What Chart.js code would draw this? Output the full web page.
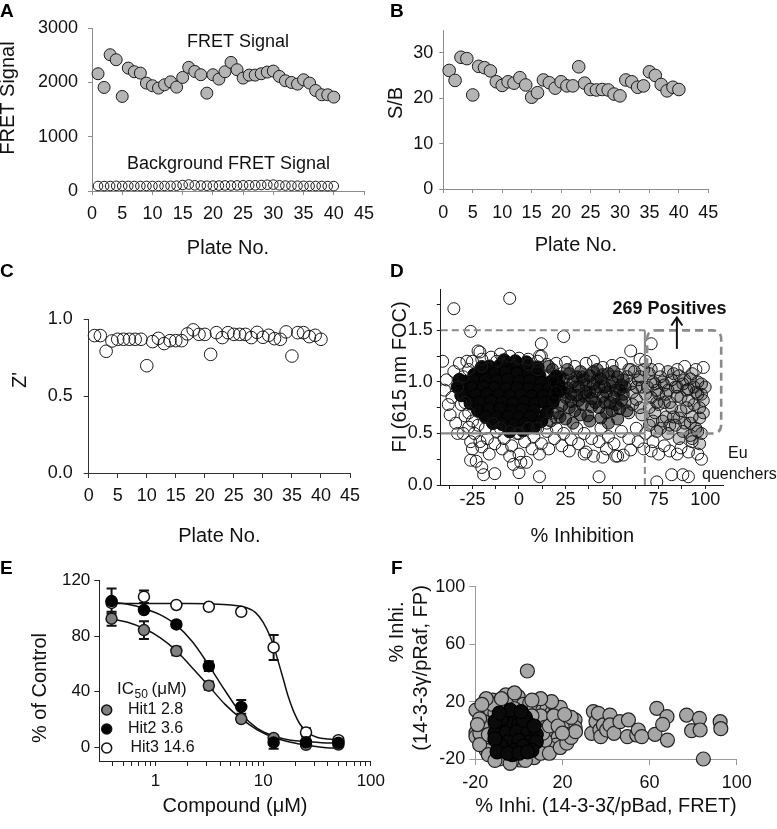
<!DOCTYPE html>
<html>
<head>
<meta charset="utf-8">
<title>HTS figure</title>
<script src="https://cdn.jsdelivr.net/npm/chart.js@4/dist/chart.umd.min.js"></script>
<style>
  html, body { margin:0; padding:0; background:#fff; }
  body { width:777px; height:829px; position:relative; overflow:hidden; font-family:"Liberation Sans", Arial, sans-serif; }
  canvas { position:absolute; }
  .plab { position:absolute; z-index:5; font-weight:bold; font-size:19px; line-height:19px; color:#000; }
</style>
</head>
<body>
<div class="plab" style="left:0px;top:1px">A</div>
<div class="plab" style="left:390px;top:1px">B</div>
<div class="plab" style="left:0px;top:261px">C</div>
<div class="plab" style="left:390px;top:261px">D</div>
<div class="plab" style="left:0px;top:558px">E</div>
<div class="plab" style="left:391px;top:558px">F</div>
<script>
// ---------------- DATA ----------------
const plates = [1,2,3,4,5,6,7,8,9,10,11,12,13,14,15,16,17,18,19,20,21,22,23,24,25,26,27,28,29,30,31,32,33,34,35,36,37,38,39,40];
const plateTicks = [0,5,10,15,20,25,30,35,40,45];
const plateTickLabels = ['0','5','10','15','20','25','30','35','40','45'];

// Panel A
const aFret = [2158,1906,2508,2416,1740,2262,2195,2170,1986,1937,1894,1955,2010,1912,2090,2275,2200,2140,1801,2140,2060,2195,2367,2232,2078,2133,2133,2158,2189,2207,2109,2029,1998,1967,2047,1986,1850,1771,1771,1728];
const aBackground = [92,90,92,95,92,93,92,92,93,92,92,93,95,97,110,120,105,100,97,98,100,102,100,103,105,106,105,110,115,118,105,100,98,97,95,93,92,92,90,90];
const aYTicks = [0,1000,2000,3000];
const aYTickLabels = ['0','1000','2000','3000'];

// Panel B
const bSB = [26.1,23.9,29.0,28.7,20.7,27.0,26.7,26.0,23.6,22.8,23.6,23.3,24.5,22.9,20.2,21.2,24.0,23.4,22.2,23.6,22.7,22.7,26.9,23.3,21.9,21.8,21.9,21.8,20.9,20.5,24.0,23.6,22.4,22.7,25.8,25.0,23.0,21.6,22.4,21.9];
const bYTicks = [0,10,20,30];
const bYTickLabels = ['0','10','20','30'];

// Panel C
const cZ = [0.894,0.894,0.792,0.859,0.870,0.870,0.870,0.870,0.870,0.698,0.855,0.876,0.842,0.861,0.861,0.861,0.905,0.931,0.902,0.902,0.772,0.913,0.881,0.913,0.902,0.902,0.902,0.881,0.915,0.883,0.896,0.874,0.870,0.918,0.761,0.913,0.913,0.887,0.896,0.870];
const cYTicks = [0,0.5,1];
const cYTickLabels = ['0.0','0.5','1.0'];

// Panel D (% inhibition vs FI)
const dCoreX = [-16,-10,-4,2,7, -24,-19,-13,-7,-1,5,11, -29,-24,-18,-12,-6,0,6,12,17, -30,-25,-19,-13,-7,-1,5,11,16, -28,-23,-17,-11,-5,1,7,13, -26,-21,-15,-9,-3,3,9,14, -22,-16,-10,-4,2,8, -18,-12,-6,0,6, -9,-3,3,
  -8,-2,4,-20,-5,2,8,20,21,19,18,22,-33,-32,-31,12,15,-14,10];
const dCoreY = [1.15,1.16,1.15,1.14,1.13, 1.07,1.09,1.08,1.09,1.08,1.07,1.06, 1.0,1.01,1.02,1.01,1.02,1.0,1.01,0.99,1.0, 0.93,0.94,0.95,0.94,0.93,0.94,0.93,0.92,0.93, 0.86,0.87,0.88,0.87,0.86,0.87,0.86,0.86, 0.79,0.8,0.81,0.8,0.79,0.8,0.79,0.8, 0.72,0.73,0.74,0.72,0.73,0.72, 0.66,0.65,0.66,0.65,0.66, 0.59,0.58,0.59,
  1.21,1.2,1.19,1.14,0.52,0.53,0.56,1.05,0.97,0.88,0.8,0.92,0.95,1.02,0.87,0.62,0.7,0.6,1.14];
const dDarkX = [18,22,20,24,19,23,27,29,26,31,28,33,35,32,36,34,21,30,25,17, 38,40,42,41,44,46,39,45,48,50,52,49,53,55,43,47,51,54,37,56,
  16,19,23,26,28,30,32,34,36,38,40,41,43,45,47,49,51,52,54,56,57,25,27,22,29,33,38,44,48,53,20,24,31,35,39,42,46,50,55,58];
const dDarkY = [1.12,1.05,0.98,0.9,0.84,0.77,1.08,1.0,0.94,0.87,0.81,1.1,1.02,0.95,0.9,0.78,0.7,0.72,0.64,0.62, 1.06,0.98,1.12,0.91,1.03,0.95,0.84,0.86,1.08,1.0,0.92,0.8,1.05,0.97,0.75,0.7,0.85,0.74,0.67,0.88,
  1.15,1.0,0.95,1.12,0.88,0.95,0.82,1.05,0.97,0.9,1.1,0.8,0.95,1.07,0.9,0.96,1.1,0.78,0.92,1.02,0.95,0.85,0.75,0.66,0.6,0.68,0.62,0.65,0.6,0.64,0.9,1.03,1.05,0.86,0.76,1.02,0.8,0.72,0.82,0.72];
const dLightX = [58,60,62,57,61,64,66,63,67,59,65,68, 70,72,74,71,76,78,75,73,80,82,79,84,81,77,86,88,85,90,87,92,94,91,96,93,98,97,89,83,95,99,70,74,80,86,92,97,
  59,61,63,65,66,69,71,73,75,77,78,80,82,83,85,87,89,90,91,93,94,95,96,97,98,99,72,76,79,84,88,92,96,100,70,74,81,86,93,98];
const dLightY = [1.05,0.98,1.1,0.8,0.9,1.02,0.95,0.83,1.12,0.7,0.75,0.88, 1.08,1.0,0.92,0.85,1.05,0.97,0.78,0.7,1.1,1.02,0.88,0.95,0.8,0.62,1.06,0.98,0.86,0.92,0.72,1.03,0.95,0.82,0.88,0.66,0.98,0.75,0.6,0.66,0.55,0.82,0.58,0.52,0.5,0.45,0.48,0.4,
  1.12,0.78,0.95,1.05,0.68,0.95,1.12,0.98,0.88,1.0,0.8,0.92,0.75,1.08,0.95,0.85,1.02,0.75,0.93,1.08,0.78,0.9,1.0,0.65,0.88,0.7,0.62,0.55,0.66,0.58,0.52,0.6,0.52,0.95,0.75,0.8,0.58,0.65,0.45,0.5];
const dOpenX = [-41,-40,-39,-37,-36,-35,-33,-34,-32,-31,-30,-29,-28,-27,-26,-25,-33,-38,
  -25,-20,-21,-15,-10,-5,0,5,10,12,15,20,25,30,36,40,45,50,55,60,65,68,75,85,89,95,99,
  -24,-21,-20,-17,-16,-13,-12,-9,-8,-5,-4,-1,0,3,4,7,8,11,12,15,16,19,20,23,24,27,28,31,32,35,36,39,40,43,44,47,48,51,52,55,56,59,60,63,64,67,68,71,72,75,78,81,85,87,91,93,96,98,
  -30,-29,-27,-25,-22,-18,-14,-10,-5,0,5,10,15,18,20,-20,-27,5,-12,10,
  -26,-23,-20,-19,-13,0,11,43,74,82,88,91,-3,1,35,45,53,
  -35,-5,-26,12,24,11,60,71,-22];
const dOpenY = [1.2,0.92,1.02,0.68,0.85,1.1,0.95,0.6,1.18,0.78,0.5,0.67,1.2,0.56,0.42,0.35,0.5,0.78,
  1.2,1.22,1.29,1.24,1.27,1.25,1.23,1.22,1.2,1.25,1.17,1.18,1.19,1.15,1.18,1.2,1.14,1.16,1.18,1.12,1.22,1.2,1.12,1.12,1.15,1.12,1.14,
  0.5,0.42,0.37,0.45,0.3,0.4,0.52,0.35,0.45,0.28,0.38,0.5,0.3,0.42,0.22,0.35,0.47,0.3,0.4,0.52,0.35,0.45,0.55,0.38,0.5,0.33,0.44,0.55,0.4,0.5,0.32,0.45,0.28,0.42,0.55,0.35,0.47,0.4,0.28,0.52,0.29,0.45,0.34,0.55,0.42,0.35,0.5,0.33,0.42,0.3,0.38,0.33,0.3,0.36,0.32,0.42,0.3,0.25,
  1.05,0.8,0.7,0.62,0.58,0.55,0.6,0.55,0.52,0.5,0.55,0.55,0.6,0.7,0.65,1.15,1.12,1.17,1.2,1.12,
  0.24,0.23,0.17,0.1,0.11,0.12,0.08,0.08,0.03,0.1,0.1,0.08,0.2,0.22,0.3,0.27,0.28,
  1.71,1.81,1.49,1.37,1.44,1.25,1.3,1.37,1.3];
const dXTicks = [-37.5,-25,-12.5,0,12.5,25,37.5,50,62.5,75,87.5,100];
const dXTickLabels = ['','-25','','0','','25','','50','','75','','100'];
const dYTicks = [0,0.25,0.5,0.75,1,1.25,1.5,1.75];
const dYTickLabels = ['0.0','','0.5','','1.0','','1.5',''];
const dCutoffInhibition = 67.6;   // vertical cut-off
const dFILow = 0.5, dFIHigh = 1.5;
const dPositives = '269 Positives';

// Panel E (dose response)
const eConc = [0.39,0.78,1.56,3.125,6.25,12.5,25,50];
const eHit1 = [92.6,84.4,69.3,44.3,20.2,6.5,1.7,1.9];
const eErr1 = [5,6.4,3,3,2,2,1.5,1.5];
const eHit2 = [105.3,98.8,88.5,58.4,29,3.4,3.5,3.1];
const eErr2 = [9,2,2,3.5,5,4.5,2,2];
const eHit3 = [104,108.5,102.5,101.2,97.6,71.9,10.6,5];
const eErr3 = [2,4.5,1.5,1.5,1.5,9,3,2];
const eFitX = [0.39,0.55,0.78,1.1,1.56,2.2,3.125,4.4,6.25,8.8,12.5,18,25,35,50];
const eFit1 = [92.5,90,85.5,79,69.5,57,44,31,20.5,12.5,7,3.5,1.5,0,-1];
const eFit2 = [104.5,103,100,95.5,88,76,59,41,24,13.5,8,5,4,3.2,3];
const eFit3X = [0.39,1,2,3.125,5,7,8.5,10,11.5,12.5,14,15.5,17,19,22,26,32,40,50];
const eFit3 = [103.5,103.5,103.5,103.3,102.5,100.5,97,90,80.5,73,60,48,37,26.5,16.5,10.5,7,5.8,5.2];
const eIC50 = ['2.8','3.6','14.6'];
const eHitNames = ['Hit1','Hit2','Hit3'];
const eXTicks = [0.4,0.5,0.6,0.7,0.8,0.9,1,2,3,4,5,6,7,8,9,10,20,30,40,50,60,70,80,90,100];
const eXTickLabels = ['','','','','','','1','','','','','','','','','10','','','','','','','','','100'];
const eYTicks = [0,40,80,120];
const eYTickLabels = ['0','40','80','120'];

// Panel F
const fCoreX = [-6,-1,3,-10,-5,0,5,-11,-6,-1,4,8,-10,-5,0,5,-7,-2,3,-8,2,-8,2,-3,
  -11,-11,7,8,6,-4,1,-10,-5,0,4,-9];
const fCoreY = [10,11,9,4,5,4,4,-2,-2,-1,-2,-3,-8,-8,-7,-8,-14,-14,-13,8,7,-11,-11,-17,
  -6,6,3,-8,-14,14,13,-15,-16,-16,-15,12];
const fGrayX = [-19.7,-19.7,-19.7,-16,-17,-15,-14,-13,-12,-9,-6,-4,-0.3,2,5,7,9,11,13,15,17,19,21,23,25.8,25.8,20,16,13,10,12,15,18,20,17,14,11,8.2,6,3,1,0.5,-3,-6.4,-9,-10.2,-13.3,-16.3,-17.9,-16,-11,3.9,8.2,-15,-12,6,9,12,22,-2,7,
  -18,-18,-14,-11,-4,3,10,14,19,22,24,26,24,19,15,10,6,-2,-8,-15,-17,-19,11,14,16,18,21,20,-14,
  33.4,34.2,35.4,36.5,37.2,37.6,38.8,40.3,41.8,41.8,43.7,46.4,50.3,49.8,54.1,54.8,56.4,62.5,63.3,68,66,68.2,77,79.3,82.9,83.2,84.7,92.4,92.7];
const fGrayY = [14.1,-1.7,-4.4,2,-6,-9,9,14,21,17,24.6,20,23.4,18,19,16,18,14,15.5,12,13,9,7,5,7.2,2.1,2,5,8,10,2,-2,-5,-8,-10.3,-12,-12,-11.4,-15,-16,-19,-20.7,-21,-18.4,-20,-16,-11.4,-6.8,-2.1,6,12,41.3,0.9,-14,18,10,-6,-7,-3,15,-19,
  8,-10,-17,-21,-23,-21,-16,-16,-12,-9,-5,-1,9,16,20,22,21,26,22,22,18,4,-2,3,10,3,11,-2,-3,
  -2.1,13,6,11.8,0.2,-4.4,3.7,0.2,10.6,3.7,-2.1,6,7.2,-4.4,-3.3,0.2,-4.4,-2.8,15.3,9.5,4.1,-6.8,10.6,-0.3,8.3,0.2,-20,6,1.1];
const fTicks = [-20,20,60,100];
const fTickLabels = ['-20','20','60','100'];

// ---------------- RENDERING ----------------
const FONT = '"Liberation Sans", Arial, Helvetica, sans-serif';
const pts = (xs, ys) => xs.map((x, i) => ({x: x, y: ys[i]}));

function pageText(ch, p, s, x, y, o) {
  o = o || {};
  const ctx = ch.ctx; ctx.save();
  ctx.font = (o.bold ? 'bold ' : '') + (o.size || 18) + 'px ' + FONT;
  ctx.fillStyle = o.color || '#111';
  ctx.textAlign = o.align || 'center';
  ctx.textBaseline = o.base || 'middle';
  ctx.fillText(s, x - p.box.x, y - p.box.y);
  ctx.restore();
}

function build(p) {
  const cv = document.createElement('canvas');
  cv.width = p.box.w; cv.height = p.box.h;
  cv.style.left = p.box.x + 'px'; cv.style.top = p.box.y + 'px';
  cv.style.width = p.box.w + 'px'; cv.style.height = p.box.h + 'px';
  document.body.appendChild(cv);
  const yW = p.plot.L - p.box.x;
  const xH = p.box.y + p.box.h - p.plot.B;
  const xTitlePad = p.box.y + p.box.h - p.xTitle.y - 12;
  function scale(o, horiz) {
    return {
      type: o.type || 'linear', min: o.min, max: o.max, position: horiz ? 'bottom' : 'left',
      afterBuildTicks: s => { s.ticks = o.ticks.map(v => ({value: v})); },
      afterFit: s => { if (horiz) s.height = xH; else s.width = yW; },
      grid: {display: true, drawOnChartArea: false, drawTicks: true, tickLength: o.tl, color: p.axisColor, tickColor: p.axisColor, lineWidth: p.axisWidth || 1},
      border: {display: true, color: p.axisColor, width: p.axisWidth || 1},
      ticks: {autoSkip: false, maxRotation: 0, minRotation: 0, padding: o.pad, color: '#111',
              font: {family: FONT, size: o.size || 18}, callback: (v, i) => o.labels[i]},
      title: horiz ? {display: true, text: p.xTitle.text, color: '#111', font: {family: FONT, size: 20, lineHeight: 1.2},
                      padding: {top: 0, bottom: xTitlePad}} : {display: false}
    };
  }
  return new Chart(cv, {
    type: 'scatter',
    data: {datasets: p.datasets},
    options: {
      responsive: false, animation: false, devicePixelRatio: 1, events: [],
      layout: {padding: {left: 0, top: p.plot.T - p.box.y, right: p.box.x + p.box.w - p.plot.R, bottom: 0}},
      plugins: {legend: {display: false}, tooltip: {enabled: false}},
      scales: {x: scale(p.x, true), y: scale(p.y, false)}
    },
    plugins: [{
      id: 'extras',
      beforeDatasetsDraw: ch => { if (p.before) p.before(ch, p); },
      afterDatasetsDraw: ch => { if (p.after) p.after(ch, p); },
      afterDraw: ch => {
        const ctx = ch.ctx;
        p.yTitle.forEach(t => {
          ctx.save();
          ctx.fillStyle = '#111'; ctx.font = '20px ' + FONT;
          ctx.textAlign = 'center'; ctx.textBaseline = 'middle';
          ctx.translate(t.x - p.box.x, t.y - p.box.y); ctx.rotate(-Math.PI / 2);
          ctx.fillText(t.text, 0, 0);
          ctx.restore();
        });
      }
    }]
  });
}

const openStyle = (r) => ({pointRadius: r, pointBackgroundColor: 'rgba(0,0,0,0)', pointBorderColor: '#1a1a1a', pointBorderWidth: 1});

// ---- A ----
build({
  box: {x: -10, y: 0, w: 395, h: 262}, plot: {L: 92, T: 28, R: 364, B: 191},
  axisColor: '#8c8c8c',
  x: {min: 0, max: 45, ticks: plateTicks, labels: plateTickLabels, tl: 4, pad: 8},
  y: {min: 0, max: 3000, ticks: aYTicks, labels: aYTickLabels, tl: 4, pad: 10},
  xTitle: {text: 'Plate No.', y: 248},
  yTitle: [{text: 'FRET Signal', x: 8, y: 98}],
  datasets: [
    Object.assign({data: pts(plates, aFret), clip: false}, {pointRadius: 6, pointBackgroundColor: '#b4b4b4', pointBorderColor: '#1a1a1a', pointBorderWidth: 1}),
    Object.assign({data: pts(plates, aBackground), clip: false}, openStyle(4.8))
  ],
  after: (ch, p) => {
    pageText(ch, p, 'FRET Signal', 238, 42, {size: 18});
    pageText(ch, p, 'Background FRET Signal', 228.5, 164, {size: 18});
  }
});

// ---- B ----
build({
  box: {x: 385, y: 0, w: 392, h: 262}, plot: {L: 443.3, T: 30, R: 708.3, B: 189},
  axisColor: '#8c8c8c',
  x: {min: 0, max: 45, ticks: plateTicks, labels: plateTickLabels, tl: 4, pad: 9},
  y: {min: 0, max: 35, ticks: bYTicks, labels: bYTickLabels, tl: 4, pad: 6},
  xTitle: {text: 'Plate No.', y: 245.7},
  yTitle: [{text: 'S/B', x: 396, y: 103}],
  datasets: [
    Object.assign({data: pts(plates, bSB), clip: false}, {pointRadius: 6.3, pointBackgroundColor: '#b4b4b4', pointBorderColor: '#1a1a1a', pointBorderWidth: 1})
  ]
});

// ---- C ----
build({
  box: {x: -10, y: 265, w: 395, h: 285}, plot: {L: 88.7, T: 319.3, R: 350, B: 473},
  axisColor: '#333333',
  x: {min: 0, max: 45, ticks: plateTicks, labels: plateTickLabels, tl: 5, pad: 7},
  y: {min: 0, max: 1, ticks: cYTicks, labels: cYTickLabels, tl: 5, pad: 11},
  xTitle: {text: 'Plate No.', y: 536.7},
  yTitle: [{text: "Z'", x: 20, y: 380}],
  datasets: [
    Object.assign({data: pts(plates, cZ), clip: false}, openStyle(6.3))
  ]
});

// ---- D ----
build({
  box: {x: 385, y: 265, w: 392, h: 285}, plot: {L: 440.8, T: 289.1, R: 723.8, B: 485},
  axisColor: '#1a1a1a',
  x: {min: -42, max: 110, ticks: dXTicks, labels: dXTickLabels, tl: 4, pad: 0},
  y: {min: 0, max: 1.9, ticks: dYTicks, labels: dYTickLabels, tl: 4, pad: 4},
  xTitle: {text: '% Inhibition', y: 536.7},
  yTitle: [{text: 'FI (615 nm FOC)', x: 400, y: 377}],
  datasets: [
    Object.assign({data: pts(dOpenX, dOpenY), clip: 0}, openStyle(6)),
    Object.assign({data: pts(dLightX, dLightY), clip: 0}, {pointRadius: 6, pointBackgroundColor: 'rgba(0,0,0,0.2)', pointBorderColor: '#1a1a1a', pointBorderWidth: 1}),
    Object.assign({data: pts(dDarkX, dDarkY), clip: 0}, {pointRadius: 6, pointBackgroundColor: 'rgba(0,0,0,0.5)', pointBorderColor: '#111', pointBorderWidth: 1}),
    Object.assign({data: pts(dCoreX, dCoreY), clip: 0}, {pointRadius: 6.5, pointBackgroundColor: '#080808', pointBorderColor: '#000', pointBorderWidth: 1})
  ],
  after: (ch, p) => {
    const X = v => ch.scales.x.getPixelForValue(v), Y = v => ch.scales.y.getPixelForValue(v);
    const ctx = ch.ctx;
    const seg = (x1, y1, x2, y2) => { ctx.beginPath(); ctx.moveTo(x1, y1); ctx.lineTo(x2, y2); ctx.stroke(); };
    ctx.save();
    ctx.strokeStyle = '#8a8a8a';
    ctx.lineWidth = 2; ctx.setLineDash([7, 4]);
    seg(X(-42), Y(dFIHigh), X(dCutoffInhibition), Y(dFIHigh));
    seg(X(dCutoffInhibition), Y(0), X(dCutoffInhibition), Y(dFILow));
    ctx.setLineDash([]); ctx.lineWidth = 2.2;
    seg(X(-42), Y(dFILow), X(dCutoffInhibition), Y(dFILow));
    ctx.lineWidth = 2;
    seg(X(dCutoffInhibition), Y(dFILow), X(dCutoffInhibition), Y(dFIHigh));
    // rounded dashed box around positives
    ctx.lineWidth = 2.6; ctx.setLineDash([8, 5]);
    const bx1 = X(68.8), bx2 = X(108.6), by1 = Y(dFIHigh), by2 = Y(dFILow), r = 9;
    ctx.beginPath();
    ctx.moveTo(bx1 + r, by1); ctx.lineTo(bx2 - r, by1); ctx.quadraticCurveTo(bx2, by1, bx2, by1 + r);
    ctx.lineTo(bx2, by2 - r); ctx.quadraticCurveTo(bx2, by2, bx2 - r, by2);
    ctx.lineTo(bx1 + r, by2); ctx.quadraticCurveTo(bx1, by2, bx1, by2 - r);
    ctx.lineTo(bx1, by1 + r); ctx.quadraticCurveTo(bx1, by1, bx1 + r, by1);
    ctx.stroke();
    // arrow
    ctx.setLineDash([]); ctx.strokeStyle = '#111'; ctx.lineWidth = 2;
    const axp = X(84.8), ay1 = Y(1.32), ay2 = Y(1.625);
    seg(axp, ay1, axp, ay2);
    ctx.beginPath(); ctx.moveTo(axp - 5.5, ay2 + 8); ctx.lineTo(axp, ay2); ctx.lineTo(axp + 5.5, ay2 + 8); ctx.stroke();
    ctx.restore();
    pageText(ch, p, dPositives, 669.5, 309, {size: 18, bold: true});
    pageText(ch, p, 'Eu', 728, 454, {size: 16, align: 'left'});
    pageText(ch, p, 'quenchers', 702, 475, {size: 16, align: 'left'});
  }
});

// ---- E ----
build({
  box: {x: -10, y: 550, w: 400, h: 279}, plot: {L: 99.3, T: 580.7, R: 371.5, B: 761},
  axisColor: '#222222',
  x: {type: 'logarithmic', min: 0.32, max: 100, ticks: eXTicks, labels: eXTickLabels, tl: 5, pad: 5, size: 17},
  y: {min: -10, max: 120, ticks: eYTicks, labels: eYTickLabels, tl: 5, pad: 4, size: 17},
  xTitle: {text: 'Compound (\u03bcM)', y: 806.7},
  yTitle: [{text: '% of Control', x: 40, y: 688}],
  datasets: [
    {data: pts(eConc, eHit2), pointRadius: 5.5, pointBackgroundColor: '#000', pointBorderColor: '#000', pointBorderWidth: 1.5, clip: false},
    {data: pts(eConc, eHit1), pointRadius: 5.5, pointBackgroundColor: '#808080', pointBorderColor: '#1a1a1a', pointBorderWidth: 1.5, clip: false},
    {data: pts(eConc, eHit3), pointRadius: 5.5, pointBackgroundColor: '#ffffff', pointBorderColor: '#111', pointBorderWidth: 1.5, clip: false},
    {data: pts(eFitX, eFit1), showLine: true, pointRadius: 0, borderColor: '#111', borderWidth: 1.5, cubicInterpolationMode: 'monotone', clip: false},
    {data: pts(eFitX, eFit2), showLine: true, pointRadius: 0, borderColor: '#111', borderWidth: 1.5, cubicInterpolationMode: 'monotone', clip: false},
    {data: pts(eFit3X, eFit3), showLine: true, pointRadius: 0, borderColor: '#111', borderWidth: 1.5, cubicInterpolationMode: 'monotone', clip: false}
  ],
  before: (ch, p) => {
    const X = v => ch.scales.x.getPixelForValue(v), Y = v => ch.scales.y.getPixelForValue(v);
    const ctx = ch.ctx; ctx.save(); ctx.strokeStyle = '#111'; ctx.lineWidth = 2;
    [[eHit1, eErr1], [eHit2, eErr2], [eHit3, eErr3]].forEach(pair => {
      pair[0].forEach((v, i) => {
        const x = X(eConc[i]), y1 = Y(v + pair[1][i]), y2 = Y(v - pair[1][i]);
        ctx.beginPath();
        ctx.moveTo(x, y1); ctx.lineTo(x, y2);
        ctx.moveTo(x - 5, y1); ctx.lineTo(x + 5, y1);
        ctx.moveTo(x - 5, y2); ctx.lineTo(x + 5, y2);
        ctx.stroke();
      });
    });
    ctx.restore();
  },
  after: (ch, p) => {
    const ctx = ch.ctx;
    pageText(ch, p, 'IC', 117, 694, {size: 17, align: 'left', base: 'alphabetic'});
    pageText(ch, p, '50', 134.5, 698, {size: 12, align: 'left', base: 'alphabetic'});
    pageText(ch, p, '(\u03bcM)', 151.5, 694, {size: 17, align: 'left', base: 'alphabetic'});
    const fills = ['#808080', '#000000', '#ffffff'];
    const rowsY = [710, 729, 748];
    const textX = [128, 128, 130.5];
    rowsY.forEach((yy, i) => {
      ctx.save();
      ctx.beginPath(); ctx.arc(106.7 - p.box.x, yy - p.box.y, 5, 0, Math.PI * 2);
      ctx.fillStyle = fills[i]; ctx.fill(); ctx.lineWidth = 1.5; ctx.strokeStyle = '#111'; ctx.stroke();
      ctx.restore();
      pageText(ch, p, eHitNames[i] + ' ' + eIC50[i], textX[i], yy, {size: 16, align: 'left'});
    });
  }
});

// ---- F ----
build({
  box: {x: 385, y: 550, w: 392, h: 279}, plot: {L: 475.3, T: 586.7, R: 736.7, B: 759},
  axisColor: '#9a9a9a',
  x: {min: -20, max: 100, ticks: fTicks, labels: fTickLabels, tl: 6, pad: 7},
  y: {min: -20, max: 100, ticks: fTicks, labels: fTickLabels, tl: 6, pad: 4},
  xTitle: {text: '% Inhi. (14-3-3\u03b6/pBad, FRET)', y: 806.7},
  yTitle: [{text: '% Inhi.', x: 397, y: 632}, {text: '(14-3-3\u03b3/pRaf, FP)', x: 421, y: 668}],
  datasets: [
    {data: pts(fCoreX, fCoreY), pointRadius: 7, pointBackgroundColor: '#0a0a0a', pointBorderColor: '#000', pointBorderWidth: 1.2, clip: false},
    {data: pts(fGrayX, fGrayY), pointRadius: 7, pointBackgroundColor: '#a6a6a6', pointBorderColor: '#222', pointBorderWidth: 1.2, clip: false}
  ]
});
</script>
</body>
</html>
